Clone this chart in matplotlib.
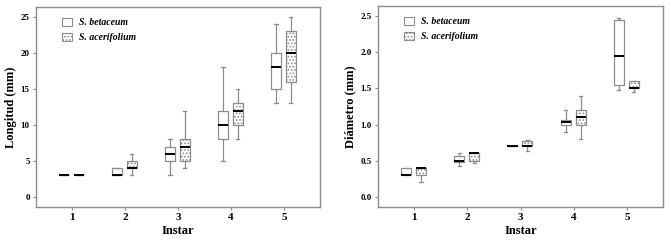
import matplotlib.pyplot as plt
from matplotlib.patches import Patch

plt.rcParams['font.family'] = ['Liberation Serif', 'DejaVu Serif']
plt.rcParams['hatch.color'] = '#9a9a9a'
plt.rcParams['hatch.linewidth'] = 0.8

instars = [1, 2, 3, 4, 5]
species = ['S. betaceum', 'S. acerifolium']

# longitud (mm): whisker low, q1, median, q3, whisker high
long_bet = [(3, 3, 3, 3, 3), (3, 3, 3, 4, 4), (3, 5, 6, 7, 8),
            (5, 8, 10, 12, 18), (13, 15, 18, 20, 24)]
long_ace = [(3, 3, 3, 3, 3), (3, 4, 4, 5, 6), (4, 5, 7, 8, 12),
            (8, 10, 12, 13, 15), (13, 16, 20, 23, 25)]

# diametro (mm)
diam_bet = [(0.3, 0.3, 0.3, 0.4, 0.4), (0.43, 0.48, 0.5, 0.57, 0.6),
            (0.7, 0.7, 0.7, 0.7, 0.7), (0.9, 1.0, 1.04, 1.07, 1.2),
            (1.48, 1.55, 1.95, 2.45, 2.47)]
diam_ace = [(0.2, 0.3, 0.4, 0.4, 0.4), (0.47, 0.5, 0.6, 0.6, 0.6),
            (0.63, 0.7, 0.7, 0.77, 0.78), (0.8, 1.0, 1.1, 1.2, 1.4),
            (1.45, 1.5, 1.5, 1.6, 1.6)]

gray = '#8c8c8c'


def to_stats(rows):
    return [dict(whislo=r[0], q1=r[1], med=r[2], q3=r[3], whishi=r[4], fliers=[])
            for r in rows]


def draw_panel(ax, bet, ace, ylabel, yticks, ylim, fmt):
    pos_b = [x - 0.15 for x in instars]
    pos_a = [x + 0.13 for x in instars]
    common = dict(widths=0.19, patch_artist=True, showfliers=False,
                  whiskerprops=dict(color=gray, lw=0.9),
                  capprops=dict(color=gray, lw=0.9),
                  medianprops=dict(color='black', lw=1.4))
    ax.bxp(to_stats(bet), positions=pos_b, capwidths=0.06,
           boxprops=dict(facecolor='white', edgecolor=gray, lw=0.9), **common)
    bp = ax.bxp(to_stats(ace), positions=pos_a, capwidths=0.06,
                boxprops=dict(facecolor='white', edgecolor=gray, lw=0.9), **common)
    for b in bp['boxes']:
        b.set_hatch('.....')

    ax.set_xlim(0.32, 5.68)
    ax.set_ylim(*ylim)
    ax.set_xticks(instars)
    ax.set_xticklabels([str(i) for i in instars], fontsize=8, fontweight='bold')
    ax.set_yticks(yticks)
    ax.set_yticklabels([fmt.format(v) for v in yticks], fontsize=6.5, fontweight='bold')
    ax.tick_params(length=2.5, width=0.8, color=gray, pad=2)
    for s in ax.spines.values():
        s.set_color(gray)
        s.set_linewidth(1.0)
    ax.set_xlabel('Instar', fontsize=9, fontweight='bold', labelpad=2)
    ax.set_ylabel(ylabel, fontsize=9, fontweight='bold', labelpad=3)

    handles = [Patch(facecolor='white', edgecolor=gray, lw=0.8),
               Patch(facecolor='white', edgecolor=gray, lw=0.8, hatch='.....')]
    ax.legend(handles, species, loc='upper left', bbox_to_anchor=(0.06, 0.99),
              frameon=False, handlelength=1.0, handleheight=1.0,
              handletextpad=0.8, labelspacing=0.55,
              prop=dict(style='italic', weight='bold', size=7))


fig = plt.figure(figsize=(6.71, 2.43), dpi=100)
ax1 = fig.add_axes([36 / 671, 36 / 243, 284 / 671, 200 / 243])
ax2 = fig.add_axes([378 / 671, 36 / 243, 285 / 671, 201 / 243])

draw_panel(ax1, long_bet, long_ace, 'Longitud (mm)', [0, 5, 10, 15, 20, 25],
           (-1.4, 26.4), '{:g}')
draw_panel(ax2, diam_bet, diam_ace, 'Diámetro (mm)', [0, 0.5, 1.0, 1.5, 2.0, 2.5],
           (-0.14, 2.64), '{:.1f}')

fig.savefig('out.png', dpi=100)
